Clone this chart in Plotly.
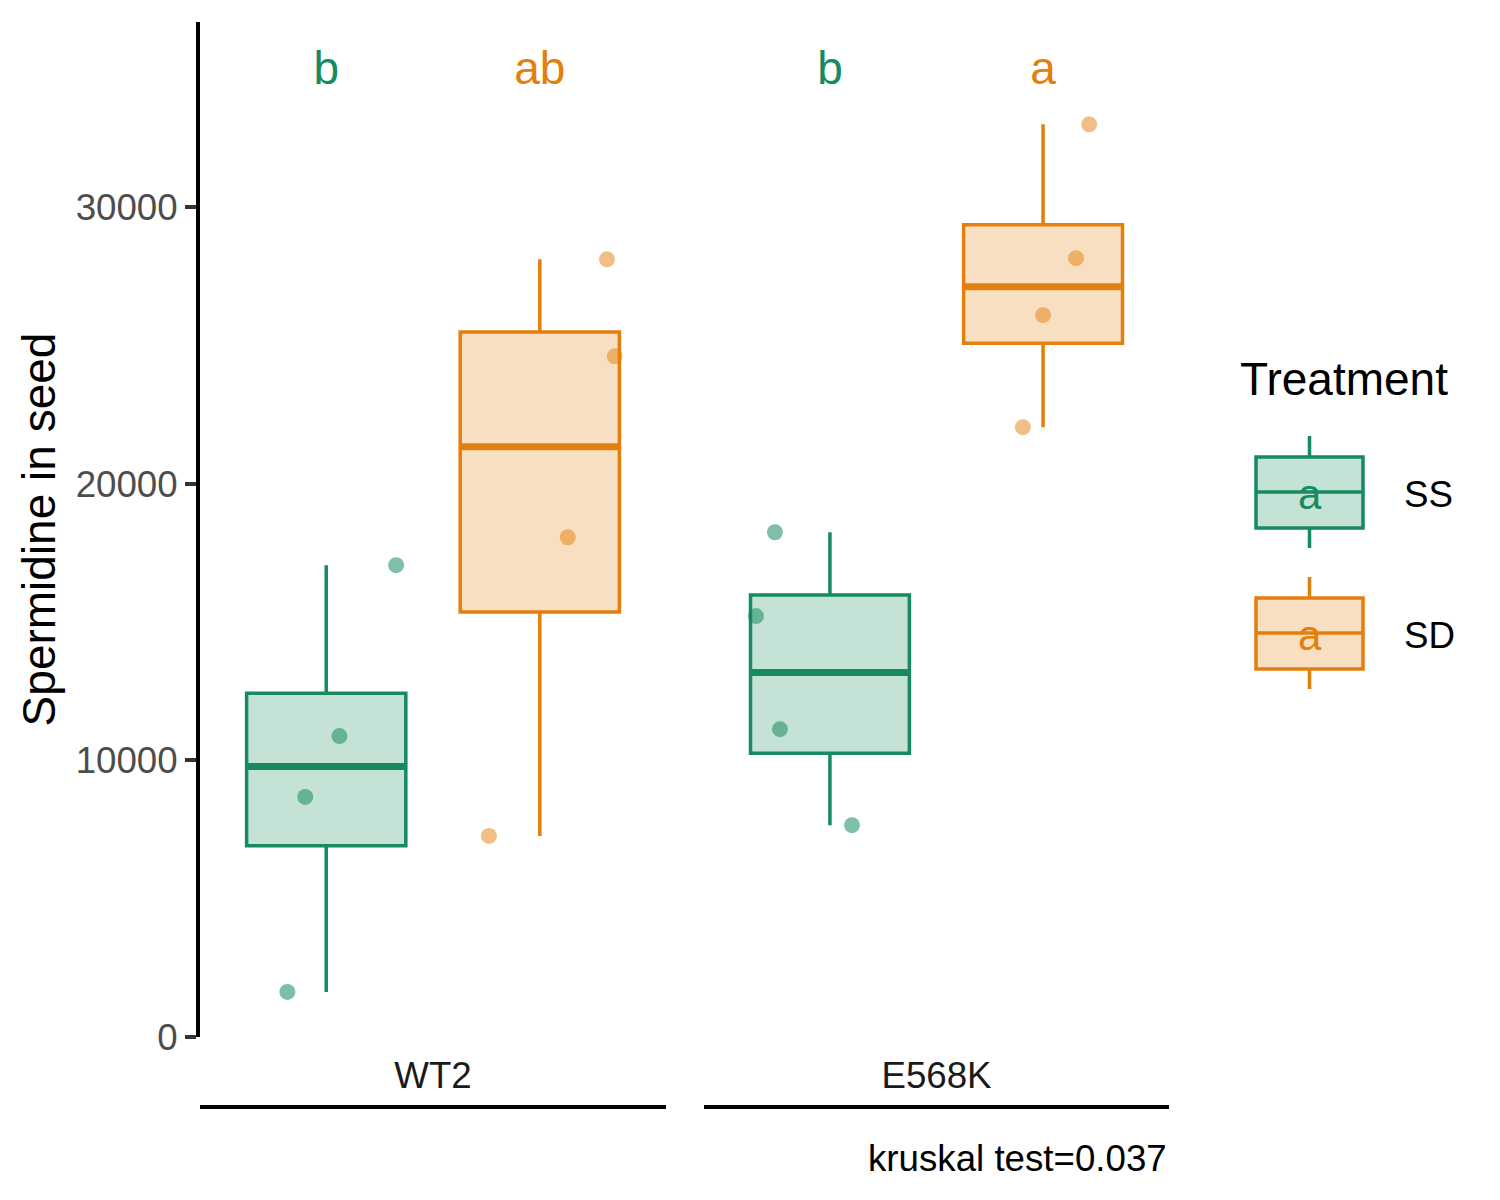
import numpy as np
import plotly.graph_objects as go

# data
genotypes = ["WT2", "E568K"]
treatments = ["SS", "SD"]
colors = {"SS": "#168B5F", "SD": "#E37F0C"}
fills = {"SS": "rgba(22,139,95,0.25)", "SD": "rgba(227,127,12,0.25)"}
pts_col = {"SS": "rgba(22,139,95,0.55)", "SD": "rgba(227,127,12,0.5)"}

wt2_ss = [1630, 8680, 10880, 17060]
wt2_sd = [7270, 18070, 24610, 28120]
e568k_ss = [7660, 11130, 15220, 18250]
e568k_sd = [22050, 26100, 28160, 33000]

# horizontal jitter of each point (x units, from the group centre)
wt2_ss_jit = [-0.10, -0.054, 0.034, 0.18]
wt2_sd_jit = [-0.131, 0.072, 0.193, 0.173]
e568k_ss_jit = [0.057, -0.129, -0.191, -0.142]
e568k_sd_jit = [-0.052, 0.0, 0.085, 0.119]

letters = {("WT2", "SS"): "b", ("WT2", "SD"): "ab",
           ("E568K", "SS"): "b", ("E568K", "SD"): "a"}
letter_y = 34880
p_text = "kruskal test=0.037"

data = {("WT2", "SS"): (wt2_ss, wt2_ss_jit), ("WT2", "SD"): (wt2_sd, wt2_sd_jit),
        ("E568K", "SS"): (e568k_ss, e568k_ss_jit), ("E568K", "SD"): (e568k_sd, e568k_sd_jit)}

FONT = "Liberation Sans, Arial, sans-serif"
dodge = {"SS": -0.275, "SD": 0.275}
bw = 0.41

fig = go.Figure()
shapes = []
for gi, g in enumerate(genotypes):
    xa = "x" if gi == 0 else "x2"
    for t in treatments:
        vals, jit = data[(g, t)]
        v = np.array(vals, dtype=float)
        pos = 1 + dodge[t]
        q1, med, q3 = np.percentile(v, [25, 50, 75])
        iqr = q3 - q1
        lo = v[v >= q1 - 1.5 * iqr].min()
        hi = v[v <= q3 + 1.5 * iqr].max()
        fig.add_trace(go.Box(
            x=[pos], q1=[q1], median=[med], q3=[q3], lowerfence=[lo], upperfence=[hi],
            width=bw, whiskerwidth=0, fillcolor=fills[t],
            line=dict(color=colors[t], width=3.5), boxpoints=False,
            xaxis=xa, yaxis="y", showlegend=False, hoverinfo="skip"))
        # thicker median like ggplot
        shapes.append(dict(type="line", xref=xa, yref="y", x0=pos - bw / 2, x1=pos + bw / 2,
                           y0=med, y1=med, line=dict(color=colors[t], width=7), layer="above"))
        fig.add_trace(go.Scatter(
            x=[pos + j for j in jit], y=vals, mode="markers",
            marker=dict(size=16, color=pts_col[t], line=dict(width=0)),
            xaxis=xa, yaxis="y", showlegend=False))
        fig.add_trace(go.Scatter(
            x=[pos], y=[letter_y], mode="text", text=[letters[(g, t)]],
            textfont=dict(family=FONT, size=46, color=colors[t]),
            xaxis=xa, yaxis="y", showlegend=False))

# pixel -> paper helpers (plot area 200..1169 x 22..1037 in the reference,
# page is drawn with an 8px offset)
OFF = 8
L, T = 200 - OFF, 22 - OFF
PW, PH = 969, 1015
R, B = 1500 - L - PW, 1200 - T - PH


def px(x):
    return (x - 200) / PW


def py(y):
    return (1037 - y) / PH


# lines under the genotype labels
for xr in ["x domain", "x2 domain"]:
    shapes.append(dict(type="line", xref=xr, yref="paper", x0=0, x1=1,
                       y0=py(1107), y1=py(1107), line=dict(color="black", width=4)))

annotations = [dict(text=p_text, xref="paper", yref="paper", x=1, y=py(1158),
                    xanchor="right", yanchor="middle", showarrow=False,
                    font=dict(family=FONT, size=36.7, color="black"))]

# hand-drawn ggplot style legend
annotations.append(dict(text="Treatment", xref="paper", yref="paper", x=px(1238), y=py(379),
                        xanchor="left", yanchor="middle", showarrow=False,
                        font=dict(family=FONT, size=46, color="black")))
for i, t in enumerate(treatments):
    dy = 141 * i
    cx = 1309.5
    shapes += [
        dict(type="line", xref="paper", yref="paper", x0=px(cx), x1=px(cx),
             y0=py(436 + dy), y1=py(457 + dy), line=dict(color=colors[t], width=3.5)),
        dict(type="line", xref="paper", yref="paper", x0=px(cx), x1=px(cx),
             y0=py(528 + dy), y1=py(548 + dy), line=dict(color=colors[t], width=3.5)),
        dict(type="rect", xref="paper", yref="paper", x0=px(1256), x1=px(1363),
             y0=py(528 + dy), y1=py(457 + dy), fillcolor=fills[t],
             line=dict(color=colors[t], width=3.5)),
        dict(type="line", xref="paper", yref="paper", x0=px(1256), x1=px(1363),
             y0=py(492 + dy), y1=py(492 + dy), line=dict(color=colors[t], width=3.5)),
    ]
    annotations.append(dict(text="a", xref="paper", yref="paper", x=px(cx), y=py(494 + dy),
                            xanchor="center", yanchor="middle", showarrow=False,
                            font=dict(family=FONT, size=42, color=colors[t])))
    annotations.append(dict(text=t, xref="paper", yref="paper", x=px(1402), y=py(494 + dy),
                            xanchor="left", yanchor="middle", showarrow=False,
                            font=dict(family=FONT, size=36.7, color="black")))

xcommon = dict(range=[0.4, 1.6], tickmode="array", tickvals=[1], showline=False,
               showgrid=False, zeroline=False, ticks="outside", ticklen=6,
               tickcolor="rgba(0,0,0,0)", anchor="y",
               tickfont=dict(family=FONT, size=36.7, color="#1a1a1a"))

fig.update_layout(
    width=1500, height=1200,
    margin=dict(l=L, r=R, t=T, b=B),
    plot_bgcolor="white", paper_bgcolor="white",
    font=dict(family=FONT),
    xaxis=dict(domain=[0, 466 / PW], ticktext=[genotypes[0]], **xcommon),
    xaxis2=dict(domain=[504 / PW, 1], ticktext=[genotypes[1]], **xcommon),
    yaxis=dict(range=[0, 36700], tickvals=[0, 10000, 20000, 30000],
               ticktext=["0", "10000", "20000", "30000"],
               showline=True, linecolor="black", linewidth=4,
               ticks="outside", ticklen=11, tickwidth=3.5, tickcolor="#333333",
               showgrid=False, zeroline=False,
               tickfont=dict(family=FONT, size=36.7, color="#4D4D4D"),
               title=dict(text="Spermidine in seed", standoff=7,
                          font=dict(family=FONT, size=46, color="black"))),
    shapes=shapes, annotations=annotations, showlegend=False,
)

fig.write_html("out.html")
